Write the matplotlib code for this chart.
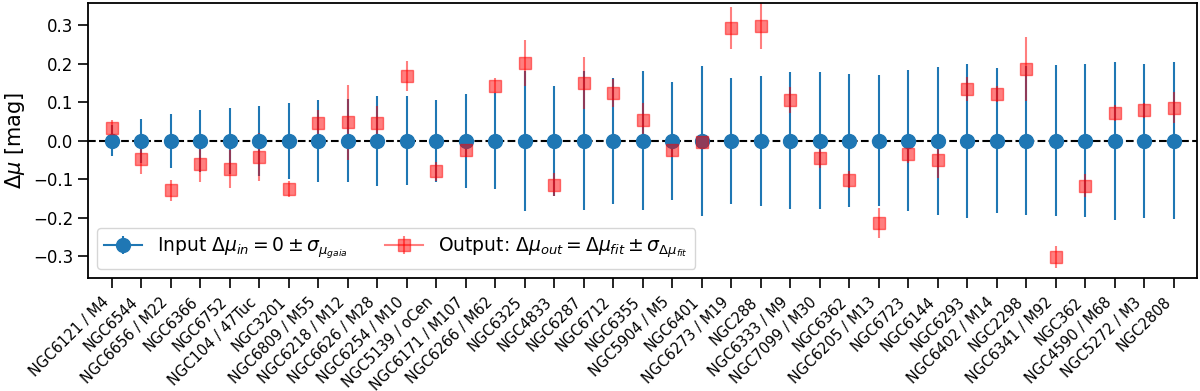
import numpy as np
import matplotlib
matplotlib.use("Agg")
from matplotlib import pyplot as plt

clusters = ["NGC6121 / M4", "NGC6544", "NGC6656 / M22", "NGC6366", "NGC6752",
            "NGC104 / 47Tuc", "NGC3201", "NGC6809 / M55", "NGC6218 / M12",
            "NGC6626 / M28", "NGC6254 / M10", "NGC5139 / oCen", "NGC6171 / M107",
            "NGC6266 / M62", "NGC6325", "NGC4833", "NGC6287", "NGC6712", "NGC6355",
            "NGC5904 / M5", "NGC6401", "NGC6273 / M19", "NGC288", "NGC6333 / M9",
            "NGC7099 / M30", "NGC6362", "NGC6205 / M13", "NGC6723", "NGC6144",
            "NGC6293", "NGC6402 / M14", "NGC2298", "NGC6341 / M92", "NGC362",
            "NGC4590 / M68", "NGC5272 / M3", "NGC2808"]

# input: offset 0 with gaia distance uncertainty
sig_gaia = [0.04, 0.057, 0.07, 0.08, 0.085, 0.091, 0.098, 0.106, 0.108, 0.117,
            0.116, 0.107, 0.122, 0.124, 0.181, 0.143, 0.18, 0.163, 0.18, 0.153,
            0.195, 0.164, 0.169, 0.178, 0.178, 0.172, 0.17, 0.183, 0.192, 0.2,
            0.188, 0.193, 0.196, 0.198, 0.205, 0.2, 0.204]

# output: fitted offset and its error
dmu_fit = [0.034, -0.047, -0.129, -0.061, -0.073, -0.042, -0.125, 0.046, 0.048, 0.046,
           0.168, -0.079, -0.023, 0.143, 0.201, -0.114, 0.149, 0.124, 0.054, -0.023,
           -0.003, 0.292, 0.298, 0.106, -0.045, -0.101, -0.213, -0.034, -0.049, 0.134,
           0.121, 0.186, -0.301, -0.117, 0.072, 0.079, 0.086]
sig_fit = [0.02, 0.038, 0.027, 0.045, 0.05, 0.063, 0.02, 0.035, 0.097, 0.043,
           0.04, 0.025, 0.02, 0.02, 0.06, 0.03, 0.067, 0.037, 0.045, 0.02,
           0.015, 0.054, 0.06, 0.034, 0.026, 0.022, 0.038, 0.024, 0.048, 0.032,
           0.02, 0.083, 0.029, 0.03, 0.02, 0.02, 0.04]

x = np.arange(len(clusters))

plt.rcParams['axes.linewidth'] = 1.3
fig, ax = plt.subplots(figsize=(12, 3.91), dpi=100)
fig.subplots_adjust(left=0.073, right=0.9975, top=0.992, bottom=0.289)

# draw with a line so the legend handle gets one, then hide the data line
eb1 = ax.errorbar(x, np.zeros(len(x)), yerr=sig_gaia, fmt='-o', color='C0', ms=10, lw=1.5,
                  label=r'Input $\Delta\mu_{in} = 0 \pm \sigma_{\mu_{gaia}}$')
eb2 = ax.errorbar(x, dmu_fit, yerr=sig_fit, fmt='-s', color='red', ms=9, lw=1.5, alpha=0.5,
                  label=r'Output: $\Delta\mu_{out} = \Delta\mu_{fit} \pm \sigma_{\Delta\mu_{fit}}$')
ax.axhline(0, color='k', ls='--', lw=1.5, zorder=0)

ax.set_xlim(-0.82, 36.78)
ax.set_ylim(-0.356, 0.357)
ax.set_xticks(x)
ax.set_xticklabels(clusters, rotation=45, ha='right', fontsize=10.5)
ax.tick_params(axis='y', labelsize=12)
ax.tick_params(length=7, width=1.2)
ax.tick_params(axis='x', pad=5)
ax.set_ylabel(r'$\Delta\mu$ [mag]', fontsize=15)
ax.legend(loc='lower left', ncol=2, fontsize=13.5)
eb1[0].set_linestyle('none')
eb2[0].set_linestyle('none')

plt.savefig('out.png', dpi=100)
